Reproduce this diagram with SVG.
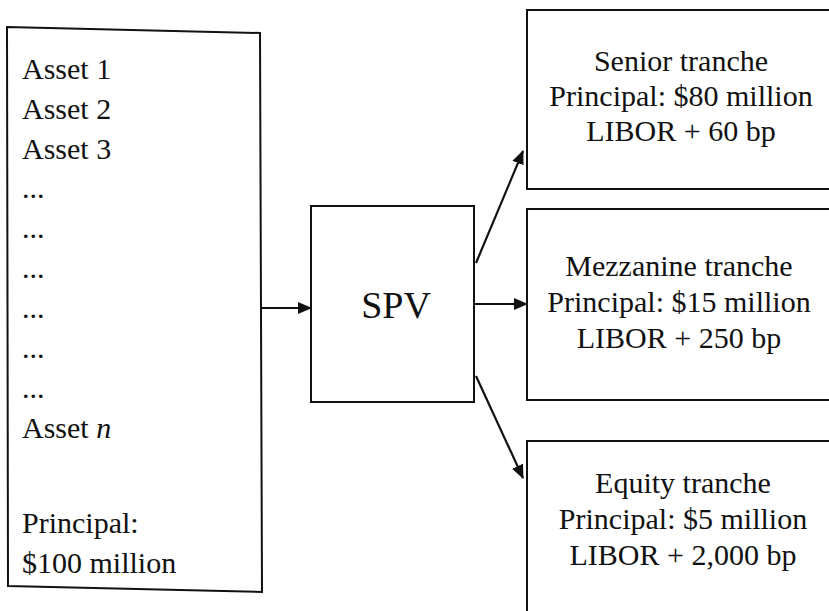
<svg xmlns="http://www.w3.org/2000/svg" width="829" height="611" viewBox="0 0 829 611">
<style>
.box{fill:#fff;stroke:#111;stroke-width:2}
.t{font-family:"Liberation Serif","Times New Roman",serif;font-size:30px;fill:#111}
.c{text-anchor:middle}
.big{font-size:38px}
.ln{stroke:#111;stroke-width:2.2;fill:none}
</style>
<defs>
<marker id="ah" markerWidth="14" markerHeight="12" refX="13" refY="6" orient="auto" markerUnits="userSpaceOnUse">
<path d="M0,0 L14,6 L0,12 Z" fill="#111"/>
</marker>
</defs>
<rect width="829" height="611" fill="#fff"/>
<g id="assets">
<path class="box" d="M7,27 L260,33 L262,592 L8,586 Z"/>
<text class="t" x="22" y="79">Asset 1</text>
<text class="t" x="22" y="119">Asset 2</text>
<text class="t" x="22" y="159">Asset 3</text>
<text class="t" x="22" y="198">...</text>
<text class="t" x="22" y="238">...</text>
<text class="t" x="22" y="278">...</text>
<text class="t" x="22" y="318">...</text>
<text class="t" x="22" y="358">...</text>
<text class="t" x="22" y="398">...</text>
<text class="t" x="22" y="438">Asset <tspan font-style="italic">n</tspan></text>
<text class="t" x="22" y="533">Principal:</text>
<text class="t" x="22" y="573">$100 million</text>
</g>
<g id="spv">
<rect class="box" x="311" y="206" width="163" height="196"/>
<text class="t c big" x="396" y="318">SPV</text>
</g>
<g id="senior">
<rect class="box" x="527" y="10" width="320" height="179"/>
<text class="t c" x="681" y="71">Senior tranche</text>
<text class="t c" x="681" y="106">Principal: $80 million</text>
<text class="t c" x="681" y="141">LIBOR + 60 bp</text>
</g>
<g id="mezzanine">
<rect class="box" x="527" y="209" width="320" height="191"/>
<text class="t c" x="679" y="276">Mezzanine tranche</text>
<text class="t c" x="679" y="312">Principal: $15 million</text>
<text class="t c" x="679" y="348">LIBOR + 250 bp</text>
</g>
<g id="equity">
<rect class="box" x="527" y="441" width="320" height="200"/>
<text class="t c" x="683" y="493">Equity tranche</text>
<text class="t c" x="683" y="529">Principal: $5 million</text>
<text class="t c" x="683" y="565">LIBOR + 2,000 bp</text>
</g>
<g id="connectors">
<line class="ln" x1="262" y1="308" x2="311" y2="308" marker-end="url(#ah)"/>
<line class="ln" x1="474" y1="304" x2="527" y2="304" marker-end="url(#ah)"/>
<line class="ln" x1="476" y1="263" x2="523" y2="151" marker-end="url(#ah)"/>
<line class="ln" x1="476" y1="376" x2="523" y2="478" marker-end="url(#ah)"/>
</g>
</svg>
